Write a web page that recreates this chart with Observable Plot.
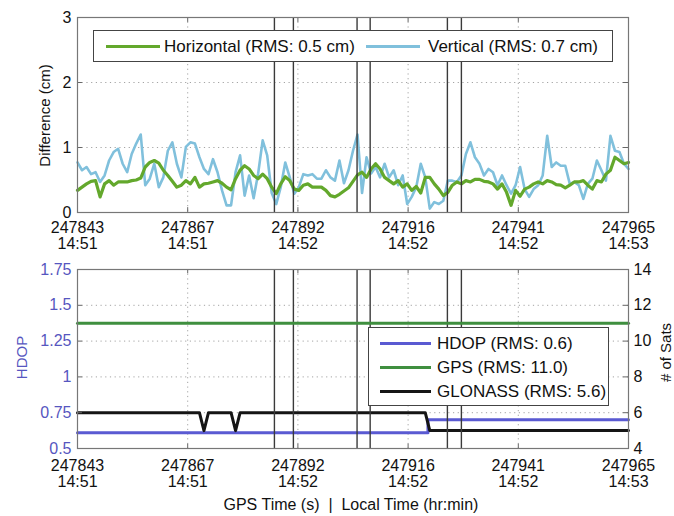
<!DOCTYPE html>
<html>
<head>
<meta charset="utf-8">
<script src="https://cdn.jsdelivr.net/npm/d3@7"></script>
<script src="https://cdn.jsdelivr.net/npm/@observablehq/plot@0.6"></script>
<style>
  html, body { margin: 0; padding: 0; background: #fff; }
  #root { position: relative; width: 674px; height: 516px; overflow: hidden; background: #fff;
          font-family: "Liberation Sans", Arial, sans-serif; color: #111; }
  #root svg { position: absolute; left: 0; }
  .lbl { position: absolute; font-size: 15px; white-space: nowrap; transform-origin: center center; }
  .legend { position: absolute; background: #fff; border: 1px solid #444; box-sizing: border-box; font-size: 17px; }
  .legend .sw { position: absolute; height: 0; }
  .legend .tx { position: absolute; line-height: 17px; white-space: nowrap; }
</style>
</head>
<body>
<div id="root"></div>
<script>
// ---------- data ----------
const startTime = 247843;
const endTime = 247965;
const xTickValues = [247843, 247867.4, 247891.8, 247916.2, 247940.6, 247965];
const gpsTickLabels = ["247843", "247867", "247892", "247916", "247941", "247965"];
const localTickLabels = ["14:51", "14:51", "14:52", "14:52", "14:52", "14:53"];

// 1 Hz differences (cm), t = startTime + index
const horizontal = [
  0.34,0.39,0.44,0.48,0.49,0.24,0.44,0.49,0.42,0.47,
  0.47,0.47,0.49,0.50,0.53,0.70,0.77,0.80,0.76,0.65,
  0.57,0.48,0.39,0.42,0.49,0.44,0.54,0.39,0.44,0.45,
  0.47,0.49,0.45,0.39,0.35,0.52,0.65,0.72,0.67,0.57,
  0.52,0.59,0.52,0.39,0.29,0.44,0.55,0.49,0.36,0.34,
  0.42,0.44,0.39,0.39,0.39,0.34,0.26,0.24,0.28,0.33,
  0.38,0.48,0.58,0.62,0.54,0.67,0.75,0.67,0.54,0.49,
  0.44,0.49,0.39,0.44,0.34,0.40,0.30,0.54,0.54,0.44,
  0.36,0.26,0.31,0.42,0.47,0.44,0.49,0.47,0.51,0.51,
  0.48,0.47,0.44,0.36,0.44,0.31,0.11,0.34,0.25,0.36,
  0.39,0.44,0.47,0.44,0.49,0.47,0.43,0.42,0.38,0.42,
  0.47,0.47,0.49,0.42,0.36,0.49,0.47,0.59,0.65,0.85,
  0.80,0.75,0.77
];
const vertical = [
  0.77,0.65,0.70,0.59,0.62,0.47,0.57,0.80,0.93,0.98,
  0.75,0.62,0.90,1.06,1.20,0.42,0.52,0.75,0.39,0.54,
  0.95,1.08,0.75,0.54,1.01,1.08,1.06,0.85,0.67,0.59,
  0.82,0.62,0.34,0.11,0.11,0.62,0.88,0.26,0.57,0.22,
  0.60,1.11,0.88,0.30,0.13,0.39,0.77,0.54,0.29,0.39,
  0.59,0.57,0.59,0.52,0.52,0.65,0.54,0.49,0.80,0.45,
  0.65,0.95,1.20,0.30,0.85,0.60,0.70,0.54,0.75,0.54,
  0.65,0.42,0.57,0.13,0.24,0.39,0.75,0.54,0.06,0.16,
  0.13,0.18,0.49,0.49,0.47,0.57,0.90,1.08,0.85,0.75,
  0.57,0.67,0.62,0.42,0.57,0.42,0.29,0.42,0.70,0.36,
  0.24,0.36,0.42,0.57,1.18,0.70,0.77,0.72,0.72,0.44,
  0.47,0.42,0.21,0.44,0.52,0.80,0.65,0.49,1.18,0.95,
  0.93,0.75,0.67
];

// GNSS outage markers (GPS time, s)
const outageLines = [247886.6, 247890.8, 247904.9, 247907.8, 247924.9, 247928.0];

// bottom panel
const hdopTimes  = [247843, 247920.6, 247920.6, 247965];
const hdopValues = [0.61, 0.61, 0.70, 0.70];
const gpsTimes = [247843, 247965];
const gpsSats  = [11, 11];
const glonassTimes = [247843, 247870, 247871, 247872, 247877, 247878, 247879, 247920, 247921, 247965];
const glonassSats  = [6, 6, 5, 6, 6, 5, 6, 6, 5, 5];

const diffTicks = [0, 1, 2, 3];
const hdopTicks = [0.5, 0.75, 1, 1.25, 1.5, 1.75];
const satTicks = [4, 6, 8, 10, 12, 14];

const legendTop = [
  {label: "Horizontal (RMS: 0.5 cm)", color: "#63a82c"},
  {label: "Vertical (RMS: 0.7 cm)", color: "#80c0dc"}
];
const legendBottom = [
  {label: "HDOP (RMS: 0.6)", color: "#5a5ad2"},
  {label: "GPS (RMS: 11.0)", color: "#3f8f3f"},
  {label: "GLONASS (RMS: 5.6)", color: "#151515"}
];

// ---------- helpers ----------
const root = document.getElementById("root");
const font = "'Liberation Sans', Arial, sans-serif";
const W = 674;
const gridStyle = {stroke: "#9a9a9a", strokeOpacity: 0.9, strokeDasharray: "1.2,3.5", strokeWidth: 1};
const xFmt = (d) => {
  const i = xTickValues.indexOf(d);
  return gpsTickLabels[i] + "\n" + localTickLabels[i];
};
const satToHdop = (s) => 0.5 + (s - 4) * 0.125;
const xTickLen = 1.1; // seconds (≈5 px inward tick)

// ---------- top panel ----------
const hData = horizontal.map((v, i) => ({t: startTime + i, v}));
const vData = vertical.map((v, i) => ({t: startTime + i, v}));
const topPlot = Plot.plot({
  width: W, height: 255,
  marginLeft: 77, marginRight: 46, marginTop: 17, marginBottom: 43,
  style: {fontFamily: font, fontSize: "16px", background: "transparent", overflow: "visible", color: "#111"},
  x: {domain: [startTime, endTime], axis: null},
  y: {domain: [0, 3], axis: null},
  marks: [
    Plot.gridX(xTickValues.slice(1, -1), gridStyle),
    Plot.gridY(diffTicks.slice(1, -1), gridStyle),
    Plot.line(vData, {x: "t", y: "v", stroke: legendTop[1].color, strokeWidth: 2.6}),
    Plot.line(hData, {x: "t", y: "v", stroke: legendTop[0].color, strokeWidth: 3.2}),
    Plot.ruleX(outageLines, {stroke: "#3a3a3a", strokeWidth: 1.4}),
    Plot.ruleX(xTickValues, {y1: 0, y2: 0.075, stroke: "#666"}),
    Plot.ruleX(xTickValues, {y1: 3, y2: 2.925, stroke: "#666"}),
    Plot.ruleY(diffTicks, {x1: startTime, x2: startTime + xTickLen, stroke: "#666"}),
    Plot.ruleY(diffTicks, {x1: endTime, x2: endTime - xTickLen, stroke: "#666"}),
    Plot.frame({stroke: "#777", strokeWidth: 1.2}),
    Plot.axisX({ticks: xTickValues, tickFormat: xFmt, tickSize: 0, tickPadding: 9, lineHeight: 1, fill: "#111", label: null}),
    Plot.axisY({ticks: diffTicks, tickFormat: (d) => String(d), tickSize: 0, tickPadding: 6, fill: "#111", label: null})
  ]
});
topPlot.style.top = "0px";
root.appendChild(topPlot);

// ---------- bottom panel ----------
const hdopData = hdopTimes.map((t, i) => ({t, v: hdopValues[i]}));
const gpsData = gpsTimes.map((t, i) => ({t, s: gpsSats[i]}));
const gloData = glonassTimes.map((t, i) => ({t, s: glonassSats[i]}));
const botPlot = Plot.plot({
  width: W, height: 240,
  marginLeft: 77, marginRight: 46, marginTop: 14, marginBottom: 47,
  style: {fontFamily: font, fontSize: "16px", background: "transparent", overflow: "visible", color: "#111"},
  x: {domain: [startTime, endTime], axis: null},
  y: {domain: [0.5, 1.75], axis: null},
  marks: [
    Plot.gridX(xTickValues.slice(1, -1), gridStyle),
    Plot.gridY(hdopTicks.slice(1, -1), gridStyle),
    Plot.line(hdopData, {x: "t", y: "v", stroke: legendBottom[0].color, strokeWidth: 3}),
    Plot.line(gloData, {x: "t", y: (d) => satToHdop(d.s), stroke: legendBottom[2].color, strokeWidth: 3}),
    Plot.ruleX(outageLines, {stroke: "#3a3a3a", strokeWidth: 1.4}),
    Plot.line(gpsData, {x: "t", y: (d) => satToHdop(d.s), stroke: legendBottom[1].color, strokeWidth: 3}),
    Plot.ruleX(xTickValues, {y1: 0.5, y2: 0.53, stroke: "#666"}),
    Plot.ruleX(xTickValues, {y1: 1.75, y2: 1.72, stroke: "#666"}),
    Plot.ruleY(hdopTicks, {x1: startTime, x2: startTime + xTickLen, stroke: "#666"}),
    Plot.ruleY(hdopTicks, {x1: endTime, x2: endTime - xTickLen, stroke: "#666"}),
    Plot.frame({stroke: "#777", strokeWidth: 1.2}),
    Plot.axisX({ticks: xTickValues, tickFormat: xFmt, tickSize: 0, tickPadding: 11, lineHeight: 1, fill: "#111", label: null}),
    Plot.axisY({ticks: hdopTicks, tickFormat: (d) => String(d), tickSize: 0, tickPadding: 6, fill: "#5656c0", label: null}),
    Plot.axisY({anchor: "right", ticks: satTicks.map(satToHdop), tickFormat: (d) => String(Math.round((d - 0.5) / 0.125 + 4)),
                tickSize: 0, tickPadding: 5, fill: "#111", label: null})
  ]
});
botPlot.style.top = "255px";
root.appendChild(botPlot);

// ---------- axis labels ----------
function addLabel(text, cx, cy, rotate, color, size) {
  const d = document.createElement("div");
  d.className = "lbl";
  d.textContent = text;
  d.style.color = color || "#111";
  if (size) d.style.fontSize = size + "px";
  d.style.whiteSpace = "pre";
  root.appendChild(d);
  const w = d.offsetWidth, h = d.offsetHeight;
  d.style.left = (cx - w / 2) + "px";
  d.style.top = (cy - h / 2) + "px";
  if (rotate) d.style.transform = "rotate(" + rotate + "deg)";
  return d;
}
addLabel("Difference (cm)", 44, 115, -90);
addLabel("HDOP", 21, 357, -90, "#5656c0");
addLabel("# of Sats", 665, 352, -90);
addLabel("GPS Time (s)  |  Local Time (hr:min)", 351, 505, 0, "#111", 16);

// ---------- legends ----------
function addLegend(items, box, rows, swX, swW, txX) {
  const L = document.createElement("div");
  L.className = "legend";
  Object.assign(L.style, {left: box.x + "px", top: box.y + "px", width: box.w + "px", height: box.h + "px"});
  items.forEach((it, i) => {
    const r = rows[i];
    const sw = document.createElement("div");
    sw.className = "sw";
    Object.assign(sw.style, {left: (r.sx ?? swX) + "px", top: (r.y - 1.5) + "px", width: swW + "px", borderTop: "3px solid " + it.color});
    L.appendChild(sw);
    const tx = document.createElement("div");
    tx.className = "tx";
    tx.textContent = it.label;
    Object.assign(tx.style, {left: (r.tx ?? txX) + "px", top: (r.y - 8.5) + "px"});
    L.appendChild(tx);
  });
  root.appendChild(L);
}
addLegend(legendTop, {x: 93, y: 30, w: 520, h: 32},
  [{y: 15, sx: 12, tx: 70}, {y: 15, sx: 272, tx: 334}], 12, 54, 70);
addLegend(legendBottom, {x: 368, y: 327, w: 241, h: 79},
  [{y: 15}, {y: 39}, {y: 63}], 11, 51, 68);
</script>
</body>
</html>
